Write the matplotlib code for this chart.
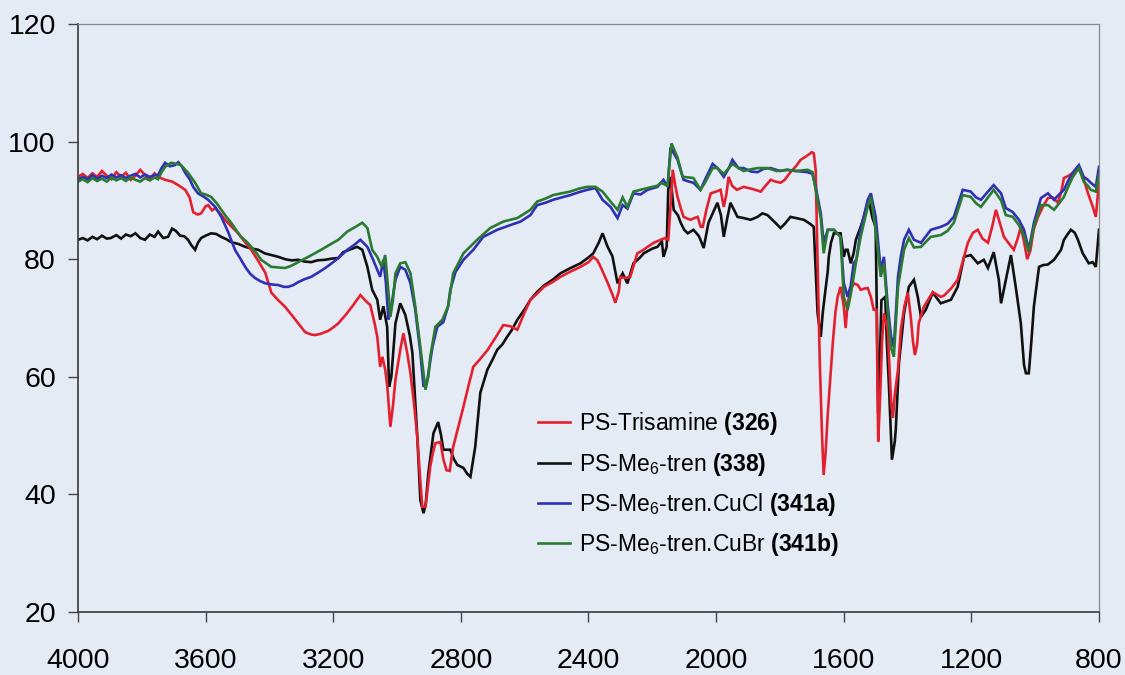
import matplotlib
matplotlib.use("Agg")
import matplotlib.pyplot as plt
import numpy as np

plt.rcParams['font.family'] = ['Liberation Sans', 'DejaVu Sans']
plt.rcParams['mathtext.fontset'] = 'custom'
plt.rcParams['mathtext.rm'] = 'Liberation Sans'
plt.rcParams['mathtext.it'] = 'Liberation Sans:italic'
plt.rcParams['mathtext.bf'] = 'Liberation Sans:bold'

# ---- IR spectra: wavenumber (cm-1) and transmittance (%) ----
wn_trisamine = [4000, 3985, 3970, 3955, 3940, 3925, 3910, 3895, 3880, 3865, 3850, 3835, 3820, 3805, 3790, 3775,
                3760, 3749, 3727, 3705, 3686, 3664, 3650, 3639, 3625, 3614, 3600, 3592, 3580, 3570, 3555, 3539,
                3520, 3498, 3478, 3457, 3435, 3413, 3394, 3372, 3351, 3330, 3310, 3288, 3270, 3257, 3240, 3216,
                3200, 3184, 3160, 3140, 3115, 3100, 3084, 3070, 3062, 3053, 3046, 3037, 3030, 3021, 3013, 3005,
                2990, 2980, 2968, 2958, 2946, 2936, 2928, 2921, 2911, 2904, 2896, 2888, 2880, 2864, 2855, 2845,
                2835, 2824, 2808, 2792, 2776, 2761, 2740, 2717, 2690, 2667, 2645, 2623, 2600, 2582, 2560, 2540,
                2510, 2488, 2460, 2425, 2400, 2385, 2372, 2362, 2340, 2325, 2316, 2305, 2300, 2285, 2269, 2247,
                2230, 2215, 2195, 2174, 2160, 2150, 2143, 2136, 2128, 2121, 2110, 2102, 2090, 2080, 2068, 2058,
                2048, 2042, 2030, 2017, 2000, 1986, 1976, 1968, 1961, 1950, 1935, 1914, 1890, 1860, 1845, 1829,
                1814, 1798, 1785, 1767, 1750, 1735, 1715, 1700, 1694, 1688, 1682, 1675, 1668, 1663, 1657, 1650,
                1642, 1634, 1626, 1619, 1610, 1600, 1594, 1588, 1578, 1569, 1556, 1547, 1535, 1525, 1515, 1506,
                1497, 1492, 1486, 1480, 1474, 1462, 1452, 1446, 1440, 1430, 1421, 1410, 1399, 1390, 1383, 1377,
                1370, 1365, 1349, 1321, 1296, 1286, 1264, 1243, 1225, 1211, 1195, 1180, 1165, 1148, 1135, 1123,
                1110, 1098, 1080, 1067, 1055, 1045, 1035, 1025, 1015, 1005, 991, 975, 960, 945, 929, 918,
                910, 895, 882, 866, 850, 835, 820, 810, 800]
t_trisamine = [94.0, 94.5, 93.8, 94.6, 94.0, 95.0, 94.2, 93.6, 94.8, 94.0, 94.7, 93.5, 94.2, 95.2, 94.3, 93.6,
               94.6, 94.0, 93.5, 93.2, 92.6, 91.8, 90.5, 88.0, 87.6, 87.8, 89.0, 89.2, 88.3, 88.7, 87.8, 86.7,
               85.6, 84.4, 83.0, 81.6, 79.7, 77.7, 74.3, 73.0, 71.9, 70.5, 69.1, 67.6, 67.2, 67.1, 67.3, 67.8,
               68.4, 69.1, 70.6, 72.0, 73.9, 73.0, 72.2, 69.0, 66.8, 61.7, 63.4, 61.2, 58.0, 51.5, 55.0, 59.5,
               64.6, 67.4, 64.0, 60.6, 55.0, 49.3, 43.0, 37.9, 37.9, 41.0, 44.7, 47.0, 48.7, 48.9, 46.0, 44.1,
               44.0, 48.1, 51.5, 54.9, 58.5, 61.7, 63.0, 64.5, 66.8, 68.8, 68.6, 68.0, 71.0, 73.1, 74.2, 75.3,
               76.2, 77.0, 77.8, 78.7, 79.5, 80.4, 79.8, 78.7, 76.0, 74.0, 72.6, 74.5, 77.0, 76.8, 77.0, 81.0,
               81.5, 82.1, 82.8, 83.3, 83.6, 83.3, 88.9, 95.2, 92.5, 90.6, 88.5, 87.2, 86.9, 86.7, 87.0, 87.2,
               85.5, 85.5, 88.5, 91.2, 91.5, 91.8, 88.9, 91.0, 94.0, 92.5, 91.8, 92.3, 92.0, 91.5, 92.5, 93.5,
               93.2, 93.0, 93.5, 94.8, 95.8, 96.9, 97.6, 98.2, 98.0, 95.2, 79.3, 62.3, 50.0, 43.3, 47.0, 53.8,
               60.0, 66.0, 71.0, 73.6, 75.3, 72.0, 68.3, 72.5, 74.8, 75.9, 75.6, 74.8, 75.0, 75.1, 73.6, 71.4,
               71.4, 49.0, 56.6, 66.0, 70.8, 68.0, 56.0, 53.0, 57.0, 61.2, 68.0, 72.0, 74.3, 70.2, 66.0, 63.7,
               65.5, 69.1, 71.9, 74.4, 73.6, 73.8, 75.0, 76.5, 80.0, 82.8, 84.5, 85.0, 83.5, 82.8, 85.5, 88.4,
               86.0, 83.8, 82.5, 81.6, 83.5, 85.5, 83.0, 80.0, 81.5, 85.0, 87.2, 89.0, 90.4, 90.5, 89.6, 91.5,
               93.8, 94.2, 94.7, 95.7, 94.0, 91.3, 89.0, 87.2, 93.0]

wn_me6tren = [4000, 3985, 3970, 3955, 3940, 3925, 3910, 3897, 3880, 3865, 3850, 3835, 3820, 3805, 3790, 3775,
              3760, 3749, 3733, 3718, 3705, 3693, 3680, 3667, 3655, 3645, 3633, 3624, 3614, 3600, 3583, 3567,
              3551, 3535, 3520, 3498, 3476, 3455, 3435, 3415, 3394, 3372, 3351, 3330, 3310, 3290, 3269, 3250,
              3225, 3205, 3184, 3169, 3150, 3125, 3109, 3093, 3078, 3062, 3053, 3043, 3031, 3025, 3018, 3005,
              2990, 2974, 2960, 2952, 2936, 2927, 2917, 2910, 2902, 2886, 2871, 2862, 2855, 2833, 2822, 2811,
              2792, 2780, 2770, 2755, 2739, 2717, 2700, 2686, 2670, 2655, 2640, 2623, 2600, 2582, 2560, 2540,
              2510, 2488, 2460, 2425, 2400, 2385, 2368, 2356, 2340, 2325, 2309, 2293, 2278, 2259, 2240, 2227,
              2200, 2184, 2170, 2165, 2155, 2150, 2143, 2133, 2120, 2111, 2100, 2089, 2071, 2055, 2049, 2039,
              2024, 2002, 1996, 1985, 1976, 1965, 1955, 1945, 1933, 1914, 1892, 1870, 1855, 1839, 1820, 1798,
              1785, 1767, 1750, 1725, 1705, 1694, 1688, 1682, 1672, 1666, 1660, 1650, 1647, 1640, 1631, 1610,
              1600, 1594, 1588, 1578, 1569, 1562, 1547, 1537, 1522, 1510, 1500, 1496, 1492, 1487, 1482, 1470,
              1465, 1458, 1449, 1440, 1437, 1427, 1411, 1396, 1380, 1368, 1358, 1343, 1321, 1296, 1264, 1243,
              1223, 1202, 1180, 1161, 1148, 1130, 1114, 1107, 1092, 1076, 1061, 1045, 1035, 1029, 1020, 1012,
              1004, 988, 975, 960, 941, 919, 910, 895, 888, 876, 866, 851, 840, 832, 820, 810, 800]
t_me6tren = [83.3, 83.6, 83.2, 83.8, 83.4, 84.0, 83.5, 83.6, 84.1, 83.5, 84.2, 83.9, 84.4, 83.6, 83.3, 84.2,
             83.8, 84.7, 83.6, 83.8, 85.2, 84.8, 84.0, 83.9, 83.3, 82.4, 81.6, 82.8, 83.6, 84.0, 84.4, 84.3,
             83.8, 83.4, 82.9, 82.6, 82.1, 81.8, 81.6, 81.0, 80.7, 80.4, 80.0, 79.8, 79.9, 79.6, 79.5, 79.8,
             79.9, 80.1, 80.2, 81.2, 81.6, 82.1, 81.6, 78.7, 74.8, 73.1, 69.7, 72.0, 68.5, 58.3, 60.0, 69.1,
             72.5, 70.5, 67.0, 64.1, 49.3, 39.0, 36.8, 38.5, 43.6, 50.4, 52.3, 50.0, 47.6, 47.6, 46.0, 45.0,
             44.5, 43.5, 43.0, 48.1, 57.3, 61.2, 63.0, 64.6, 65.5, 66.8, 68.0, 69.7, 71.5, 73.1, 74.5, 75.5,
             76.6, 77.6, 78.4, 79.3, 80.3, 81.0, 82.8, 84.4, 82.1, 80.5, 75.9, 77.6, 75.9, 79.3, 80.2, 81.0,
             81.8, 82.1, 83.0, 80.4, 82.1, 91.8, 94.0, 88.4, 87.5, 86.2, 85.0, 84.4, 85.0, 84.0, 83.3, 81.9,
             86.2, 88.9, 89.6, 87.5, 83.8, 87.0, 89.6, 88.5, 87.2, 87.0, 86.7, 87.2, 87.8, 87.5, 86.5, 85.3,
             86.0, 87.2, 87.0, 86.7, 86.0, 85.5, 78.0, 70.8, 66.8, 70.8, 73.6, 78.0, 80.4, 82.8, 84.4, 84.4,
             80.4, 81.6, 81.6, 79.3, 81.0, 83.3, 85.5, 87.2, 90.1, 87.0, 85.5, 70.0, 53.8, 62.0, 73.0, 73.6,
             66.0, 58.0, 45.9, 49.0, 51.0, 62.3, 70.8, 75.3, 76.5, 73.6, 70.2, 71.4, 74.3, 72.5, 73.1, 75.3,
             80.4, 80.7, 79.3, 79.9, 78.5, 81.2, 76.5, 72.5, 76.5, 80.7, 75.3, 69.1, 62.0, 60.6, 60.6, 66.0,
             72.0, 78.7, 79.0, 79.1, 79.9, 81.6, 83.3, 84.5, 85.0, 84.5, 83.3, 81.0, 80.0, 79.3, 79.5, 78.7, 85.0]

wn_cucl = [4000, 3985, 3970, 3955, 3940, 3925, 3910, 3895, 3880, 3865, 3850, 3835, 3820, 3805, 3790, 3775,
           3760, 3749, 3738, 3727, 3712, 3696, 3686, 3675, 3664, 3650, 3639, 3624, 3605, 3592, 3570, 3551,
           3530, 3508, 3490, 3476, 3460, 3445, 3430, 3413, 3392, 3372, 3355, 3341, 3325, 3310, 3290, 3269,
           3245, 3225, 3205, 3184, 3156, 3135, 3115, 3093, 3075, 3053, 3043, 3035, 3027, 3018, 3005, 2990,
           2974, 2958, 2943, 2927, 2917, 2905, 2889, 2874, 2855, 2840, 2833, 2817, 2792, 2761, 2730, 2686,
           2645, 2613, 2582, 2561, 2535, 2511, 2485, 2457, 2430, 2404, 2378, 2356, 2331, 2309, 2293, 2278,
           2259, 2237, 2215, 2184, 2165, 2152, 2143, 2121, 2102, 2085, 2071, 2049, 2035, 2011, 1996, 1976,
           1960, 1949, 1930, 1914, 1890, 1870, 1850, 1829, 1800, 1777, 1750, 1713, 1698, 1688, 1672, 1663,
           1650, 1631, 1610, 1600, 1588, 1578, 1569, 1560, 1547, 1525, 1515, 1500, 1484, 1474, 1462, 1452,
           1443, 1430, 1421, 1411, 1396, 1380, 1358, 1327, 1296, 1275, 1255, 1227, 1202, 1185, 1170, 1148,
           1130, 1107, 1092, 1070, 1051, 1035, 1020, 1004, 982, 960, 941, 925, 910, 895, 882, 863,
           848, 835, 826, 810, 800]
t_cucl = [93.5, 94.0, 93.6, 94.3, 93.7, 94.2, 93.8, 94.4, 93.9, 94.3, 93.8, 94.2, 94.5, 93.9, 94.4, 94.0,
          94.3, 94.3, 95.5, 96.4, 95.8, 96.0, 96.5, 95.8, 94.7, 93.6, 92.3, 91.2, 90.6, 90.1, 88.9, 87.2,
          84.7, 81.6, 80.0, 78.7, 77.5, 76.8, 76.3, 75.9, 75.7, 75.6, 75.3, 75.3, 75.6, 76.1, 76.6, 77.0,
          77.8, 78.5, 79.3, 80.2, 81.6, 82.4, 83.3, 82.1, 79.9, 77.0, 79.9, 76.0, 69.7, 72.0, 76.5, 78.7,
          78.2, 75.9, 71.4, 64.1, 58.3, 59.5, 65.1, 68.5, 69.3, 72.0, 74.8, 77.8, 79.9, 81.6, 83.8, 85.0,
          85.8, 86.4, 87.5, 89.2, 89.6, 90.1, 90.5, 90.9, 91.4, 91.8, 92.1, 90.1, 88.9, 87.0, 89.2, 88.6,
          91.2, 91.0, 91.8, 92.3, 93.5, 92.3, 99.0, 96.9, 93.5, 93.2, 93.0, 91.8, 93.5, 96.2, 95.5, 94.0,
          95.5, 96.9, 95.5, 95.5, 94.9, 94.8, 95.4, 95.5, 95.0, 95.2, 95.0, 94.8, 94.5, 92.3, 87.8, 82.8,
          85.0, 85.0, 83.8, 76.0, 73.6, 75.5, 79.3, 80.0, 85.0, 90.1, 91.2, 87.2, 78.2, 80.4, 72.0, 67.0,
          65.0, 77.0, 80.5, 83.3, 85.0, 83.3, 82.8, 85.0, 85.5, 86.0, 87.2, 91.8, 91.5, 90.5, 90.1, 91.5,
          92.6, 91.2, 88.7, 88.0, 86.7, 85.0, 81.6, 86.2, 90.4, 91.2, 90.1, 91.0, 91.8, 93.5, 94.7, 96.0,
          94.0, 93.5, 93.0, 92.3, 95.7]

wn_cubr = [4000, 3985, 3970, 3955, 3940, 3925, 3910, 3895, 3880, 3865, 3850, 3835, 3820, 3805, 3790, 3775,
           3760, 3749, 3738, 3727, 3708, 3690, 3677, 3664, 3655, 3633, 3614, 3600, 3583, 3565, 3551, 3535,
           3520, 3505, 3489, 3470, 3457, 3440, 3426, 3410, 3394, 3372, 3351, 3335, 3320, 3300, 3278, 3258,
           3238, 3210, 3184, 3156, 3130, 3109, 3093, 3078, 3062, 3048, 3037, 3028, 3021, 3013, 3005, 2990,
           2974, 2958, 2943, 2927, 2918, 2911, 2902, 2896, 2880, 2858, 2840, 2824, 2792, 2749, 2708, 2667,
           2623, 2582, 2561, 2535, 2511, 2485, 2457, 2430, 2404, 2378, 2356, 2331, 2309, 2293, 2278, 2259,
           2237, 2215, 2184, 2174, 2152, 2140, 2121, 2105, 2085, 2071, 2049, 2035, 2011, 1996, 1976, 1960,
           1949, 1930, 1914, 1890, 1870, 1839, 1810, 1777, 1750, 1713, 1698, 1688, 1672, 1663, 1650, 1631,
           1610, 1600, 1588, 1578, 1569, 1560, 1547, 1525, 1515, 1500, 1484, 1474, 1462, 1452, 1443, 1430,
           1411, 1396, 1380, 1358, 1327, 1296, 1275, 1255, 1227, 1202, 1185, 1170, 1148, 1130, 1107, 1092,
           1070, 1051, 1035, 1020, 1004, 982, 960, 941, 925, 910, 895, 882, 863, 848, 835, 826, 810, 800]
t_cubr = [93.2, 93.6, 93.1, 93.8, 93.3, 93.7, 93.2, 93.9, 93.4, 93.8, 93.3, 93.9, 93.5, 93.2, 93.8, 93.4,
          93.9, 93.6, 94.8, 95.7, 96.4, 96.2, 96.0, 95.2, 94.7, 93.0, 91.2, 91.0, 90.6, 89.5, 88.4, 87.2,
          86.2, 85.0, 83.8, 82.9, 82.1, 81.0, 79.9, 79.3, 78.7, 78.6, 78.5, 78.8, 79.2, 79.8, 80.4, 81.0,
          81.6, 82.5, 83.3, 84.7, 85.5, 86.2, 85.3, 81.6, 80.4, 78.7, 80.7, 75.0, 70.2, 73.0, 77.6, 79.3,
          79.5, 77.6, 72.0, 65.1, 61.0, 57.8, 60.0, 63.4, 68.5, 69.7, 72.0, 77.6, 81.0, 83.3, 85.3, 86.4,
          87.0, 88.4, 89.8, 90.3, 90.9, 91.2, 91.5, 92.0, 92.3, 92.3, 91.5, 89.8, 88.4, 90.5, 88.9, 91.5,
          91.8, 92.1, 92.5, 93.0, 92.5, 99.7, 97.3, 94.0, 93.9, 93.8, 91.8, 93.0, 95.5, 95.5, 94.5, 95.5,
          96.2, 95.5, 95.0, 95.3, 95.5, 95.5, 95.0, 95.2, 95.0, 95.2, 94.8, 91.8, 87.0, 81.0, 85.0, 85.0,
          83.8, 73.6, 71.4, 74.0, 77.0, 80.0, 83.8, 88.9, 90.6, 85.0, 77.0, 79.3, 70.8, 65.0, 63.4, 75.3,
          81.6, 83.6, 82.0, 82.1, 83.8, 84.1, 84.8, 86.2, 90.9, 90.6, 89.5, 88.9, 90.5, 91.8, 90.0, 87.5,
          87.2, 85.8, 84.0, 81.2, 85.5, 89.2, 89.2, 88.4, 89.5, 90.6, 92.5, 94.0, 95.5, 93.2, 92.5, 91.8,
          91.5, 94.3]

series_labels = [r"PS-Trisamine $\mathbf{(326)}$",
                 r"PS-Me$_6$-tren $\mathbf{(338)}$",
                 r"PS-Me$_6$-tren.CuCl $\mathbf{(341a)}$",
                 r"PS-Me$_6$-tren.CuBr $\mathbf{(341b)}$"]
series_colors = ["#e3202f", "#111111", "#3030b4", "#2a7a32"]

x_ticks = [4000, 3600, 3200, 2800, 2400, 2000, 1600, 1200, 800]
y_ticks = [20, 40, 60, 80, 100, 120]

bg = "#e5ebf4"
fig = plt.figure(figsize=(11.25, 6.75), dpi=100, facecolor=bg)
ax = fig.add_axes([78 / 1125, 63 / 675, 1021 / 1125, 588 / 675], facecolor=bg)

data = [(wn_trisamine, t_trisamine), (wn_me6tren, t_me6tren),
        (wn_cucl, t_cucl), (wn_cubr, t_cubr)]
# draw the black spectrum first so the coloured ones sit over it, keep legend order
order = [1, 0, 2, 3]
handles = [None] * 4
for i in order:
    wn, t = data[i]
    (ln,) = ax.plot(wn, t, color=series_colors[i], lw=1.9, label=series_labels[i],
                    solid_joinstyle='miter')
    handles[i] = ln

ax.set_xlim(4000, 800)
ax.set_ylim(20, 120)
ax.set_xticks(x_ticks)
ax.set_yticks(y_ticks)
ax.tick_params(axis='x', direction='out', length=7, width=1.0, color='#444444',
               labelsize=20.5, pad=19, top=False)
ax.tick_params(axis='y', direction='out', length=7, width=1.0, color='#444444',
               labelsize=20.5, pad=9, right=False)

for side in ('left', 'bottom'):
    ax.spines[side].set_color('#3a3a3a')
    ax.spines[side].set_linewidth(1.2)
for side in ('top', 'right'):
    ax.spines[side].set_color('#8a8a8a')
    ax.spines[side].set_linewidth(0.9)

leg = ax.legend(handles=handles, loc='upper left', bbox_to_anchor=(0.4505, 0.343),
                frameon=False, fontsize=16.5, handlelength=1.4, handletextpad=0.4,
                labelspacing=0.58, borderpad=0, borderaxespad=0)

fig.savefig("out.png", dpi=100, facecolor=bg)
